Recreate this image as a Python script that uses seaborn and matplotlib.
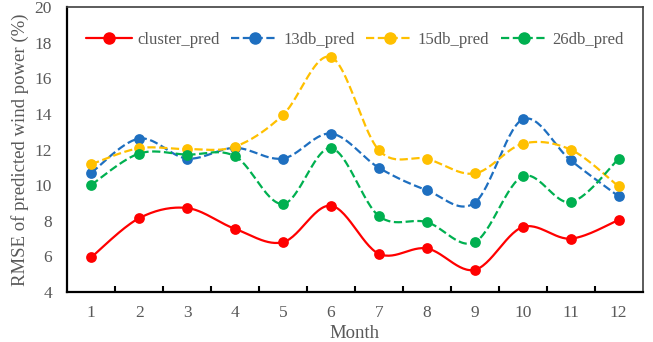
import numpy as np
import pandas as pd
import matplotlib
matplotlib.use("Agg")
import matplotlib.pyplot as plt
import seaborn as sns

months = list(range(1, 13))
cluster_pred = [5.95, 8.15, 8.72, 7.55, 6.8, 8.85, 6.15, 6.45, 5.25, 7.65, 7.0, 8.05]
db13_pred = [10.7, 12.62, 11.5, 12.1, 11.5, 12.9, 10.98, 9.72, 9.02, 13.7, 11.4, 9.38]
db15_pred = [11.18, 12.08, 12.03, 12.17, 13.95, 17.2, 11.97, 11.48, 10.66, 12.33, 12.0, 9.93]
db26_pred = [10.02, 11.78, 11.72, 11.63, 8.95, 12.08, 8.27, 7.93, 6.8, 10.5, 9.05, 11.48]

names = ["cluster_pred", "13db_pred", "15db_pred", "26db_pred"]
colors = ["#FF0000", "#1E6FC0", "#FFC000", "#00B050"]
styles = ["-", "--", "--", "--"]


def smooth(x, y, n=30):
    # excel-like smoothed line (catmull-rom bezier between points)
    x = np.asarray(x, float)
    y = np.asarray(y, float)
    px = np.concatenate([[x[0]], x, [x[-1]]])
    py = np.concatenate([[y[0]], y, [y[-1]]])
    xs, ys = [], []
    for i in range(1, len(px) - 2):
        p0 = np.array([px[i], py[i]])
        p3 = np.array([px[i + 1], py[i + 1]])
        p1 = p0 + (p3 - np.array([px[i - 1], py[i - 1]])) / 6
        p2 = p3 - (np.array([px[i + 2], py[i + 2]]) - p0) / 6
        t = np.linspace(0, 1, n)[:, None]
        b = (1 - t) ** 3 * p0 + 3 * (1 - t) ** 2 * t * p1 + 3 * (1 - t) * t ** 2 * p2 + t ** 3 * p3
        xs.extend(b[:, 0])
        ys.extend(b[:, 1])
    return xs, ys


sns.set_style("white")
plt.rcParams["font.family"] = ["Liberation Serif", "DejaVu Serif"]

fig, ax = plt.subplots(figsize=(6.53, 3.42), dpi=100)
fig.subplots_adjust(left=0.103, right=0.984, top=0.979, bottom=0.146)

for name, vals, c, ls in zip(names, [cluster_pred, db13_pred, db15_pred, db26_pred], colors, styles):
    sx, sy = smooth(months, vals)
    sns.lineplot(x=sx, y=sy, ax=ax, color=c, linestyle=ls, linewidth=1.6, sort=False)
    sns.scatterplot(x=months, y=vals, ax=ax, color=c, s=60, edgecolor=c, linewidth=0, zorder=3)
    ax.plot([], [], color=c, linestyle=ls, linewidth=1.6, marker="o", markersize=8, label=name)

ax.set_xlim(0.5, 12.5)
ax.set_ylim(4, 20)
ax.set_xticks(months)
ax.set_xticks(np.arange(1.5, 12.5, 1), minor=True)
ax.set_yticks(range(4, 21, 2))
ax.tick_params(axis="x", which="major", length=0, labelsize=12.5, labelcolor="#595959", pad=9)
ax.tick_params(axis="x", which="minor", length=4, width=1.5, direction="in", bottom=True, color="black")
ax.tick_params(axis="y", length=0, labelsize=12.5, labelcolor="#595959", pad=11)

for s in ["left", "bottom"]:
    ax.spines[s].set_color("black")
    ax.spines[s].set_linewidth(1.6)
for s in ["top", "right"]:
    ax.spines[s].set_color("#404040")
    ax.spines[s].set_linewidth(1.2)

ax.set_xlabel("Month", fontsize=13.5, color="#595959", labelpad=3)
ax.set_ylabel("RMSE of predicted wind power (%)", fontsize=13.5, color="#595959", labelpad=4)

leg = ax.legend(loc="center", bbox_to_anchor=(0.5, 0.884), ncol=4, frameon=False,
                fontsize=12, handlelength=2.8, columnspacing=0.7, handletextpad=0.3)
for t in leg.get_texts():
    t.set_color("#595959")

fig.savefig("out.png", dpi=100)
